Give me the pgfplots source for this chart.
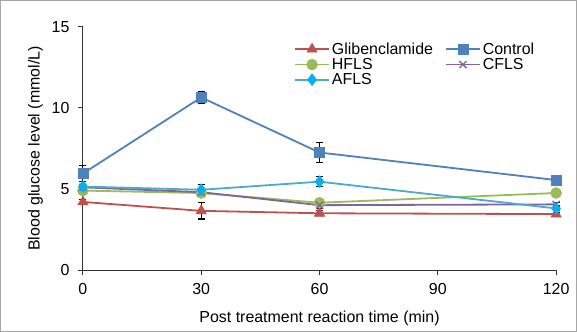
\documentclass[border=0pt]{standalone}
\usepackage{pgfplots}
\pgfplotsset{compat=1.18}
\usepackage{fontspec}
\setmainfont{Liberation Sans}
\definecolor{cRed}{HTML}{C0504D}
\definecolor{cBlue}{HTML}{4F81BD}
\definecolor{cGreen}{HTML}{9BBB59}
\definecolor{cPurple}{HTML}{8064A2}
\definecolor{cCyan}{HTML}{4BACC6}
\definecolor{cCyanM}{HTML}{00B0F0}
\begin{document}
\begin{tikzpicture}[x=1bp,y=1bp]
\draw[gray!70, line width=0.8bp] (-82.5,-61.5) rectangle (493.5,269.5);
\begin{axis}[
  at={(0,0)}, anchor=origin,
  scale only axis, width=473bp, height=243bp,
  xmin=0, xmax=120, ymin=0, ymax=15,
  xtick={0,30,60,90,120}, ytick={0,5,10,15},
  axis x line*=bottom, axis y line*=left,
  axis line style={black!80, line width=0.9bp, -},
  tick style={black!80, line width=0.9bp},
  tick align=outside, major tick length=5bp,
  /pgf/number format/assume math mode=true,
  tick label style={font=\fontsize{16}{18}\selectfont},
  xticklabel style={yshift=-5bp},
  yticklabel style={xshift=-5bp},
  label style={font=\fontsize{16}{18}\selectfont},
  xlabel={Post treatment reaction time (min)},
  ylabel={Blood glucose level (mmol/L)},
  xlabel style={yshift=-9bp},
  ylabel style={yshift=2bp},
  clip=false,
  legend style={draw=none, fill=none, at={(0.446,0.944)}, anchor=north west,
    inner sep=0pt,
    font=\fontsize{16}{16}\selectfont, row sep=-1.5bp,
    /tikz/every even column/.append style={column sep=10bp}},
  legend columns=2,
  legend cell align=left,
  legend image code/.code={\draw[mark repeat=2,mark phase=2] plot coordinates {(0bp,0bp) (17bp,0bp) (34bp,0bp)};},
  every axis plot/.append style={line width=1.8bp},
  error bars/error bar style={black, line width=1.1bp},
  error bars/error mark options={rotate=90, mark size=3.5bp, black, line width=1.1bp},
]
\addplot[color=cRed, mark=triangle*, mark size=6bp, mark options={fill=cRed, line width=0.5bp}, error bars/.cd, y dir=both, y explicit]
  coordinates {(0,4.2) +- (0,0.15) (30,3.65) +- (0,0.5) (60,3.5) +- (0,0.15) (120,3.45) +- (0,0.1)};
\addlegendentry{Glibenclamide}
\addplot[color=cBlue, mark=square*, mark size=5bp, mark options={fill=cBlue, line width=0.5bp}, error bars/.cd, y dir=both, y explicit]
  coordinates {(0,5.95) +- (0,0.5) (30,10.65) +- (0,0.35) (60,7.25) +- (0,0.6) (120,5.55) +- (0,0.25)};
\addlegendentry{Control}
\addplot[color=cGreen, mark=*, mark size=5.5bp, mark options={fill=cGreen, line width=0.5bp}, error bars/.cd, y dir=both, y explicit]
  coordinates {(0,4.9) +- (0,0.15) (30,4.75) +- (0,0.2) (60,4.15) +- (0,0.15) (120,4.75) +- (0,0.1)};
\addlegendentry{HFLS}
\addplot[color=cPurple, mark=x, mark size=5bp, mark options={line width=1.3bp}, error bars/.cd, y dir=both, y explicit]
  coordinates {(0,5.1) +- (0,0.15) (30,4.8) +- (0,0.2) (60,4.0) +- (0,0.2) (120,4.05) +- (0,0.1)};
\addlegendentry{CFLS}
\addplot[color=cCyan, mark=diamond*, mark size=6bp, mark options={fill=cCyanM, draw=cCyanM, line width=0.5bp}, error bars/.cd, y dir=both, y explicit]
  coordinates {(0,5.15) +- (0,0.15) (30,4.95) +- (0,0.3) (60,5.45) +- (0,0.3) (120,3.8) +- (0,0.1)};
\addlegendentry{AFLS}
\end{axis}
\end{tikzpicture}
\end{document}
